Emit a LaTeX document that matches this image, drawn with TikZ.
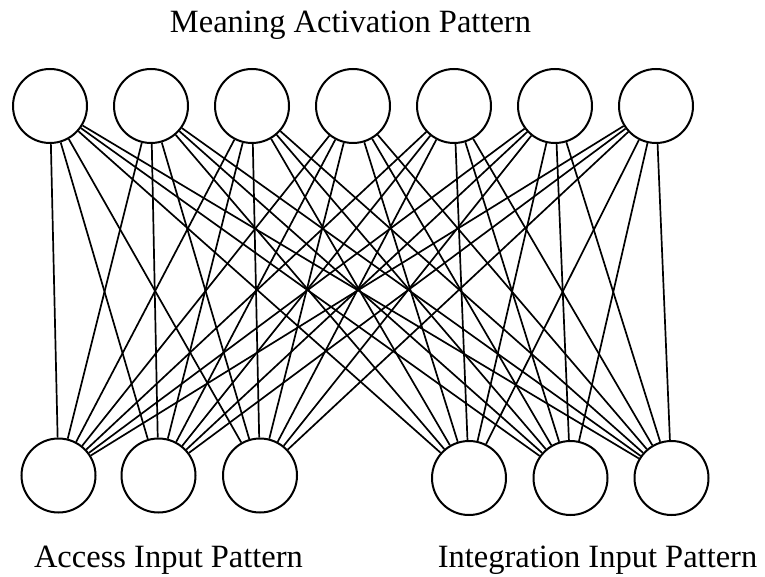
\documentclass[tikz,border=0pt]{standalone}
\usepackage{fontspec}
\setmainfont{Liberation Serif}
\begin{document}
\begin{tikzpicture}[x=1pt,y=-1pt,
  unit/.style={circle,draw,line width=2pt,minimum size=74pt,inner sep=0pt},
  link/.style={line width=1.7pt},
  lbl/.style={anchor=base,inner sep=0pt,font=\fontsize{32.5}{39}\selectfont}]
\useasboundingbox (0,0) rectangle (765,577);
\foreach \i/\x in {1/50,2/151,3/252,4/353,5/454,6/555,7/656}
  \node[unit] (t\i) at (\x,106) {};
\foreach \i/\x/\y in {1/58.5/475.5,2/158.5/475.5,3/260/475.5,4/469/478,5/570.5/478,6/671.5/478}
  \node[unit] (b\i) at (\x,\y) {};
\foreach \i in {1,...,7}
  \foreach \j in {1,...,6}
    \draw[link] (t\i) -- (b\j);
\node[lbl] (top) at (350.5,33) {Meaning Activation Pattern};
\node[lbl] (acc) at (168.5,567) {Access Input Pattern};
\node[lbl] (int) at (597.5,567) {Integration Input Pattern};
\end{tikzpicture}
\end{document}
